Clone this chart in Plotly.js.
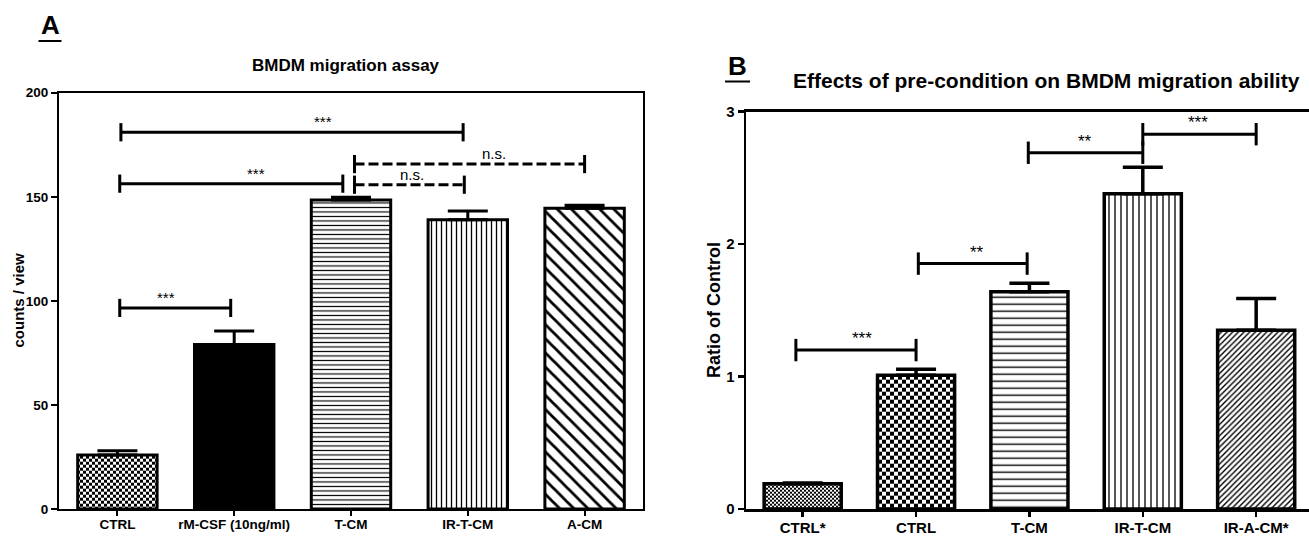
<!DOCTYPE html>
<html><head><meta charset="utf-8">
<script src="https://cdn.plot.ly/plotly-3.0.1.min.js"></script>
<style>html,body{margin:0;padding:0;background:#fff}</style>
</head><body><div id="chart" style="width:1309px;height:537px"></div>
<script>
// ---------- Panel A data ----------
const catsA = ['CTRL', 'rM-CSF (10ng/ml)', 'T-CM', 'IR-T-CM', 'A-CM'];
const valsA = [26, 79, 148.5, 139, 144.5];
const errA  = [2, 6.5, 1.3, 4.2, 1.4];
const ticksA = [0, 50, 100, 150, 200];

// significance brackets, panel A
const sigA_from  = [0.03, 0.02, 0.02, 2.03, 2.03];
const sigA_to    = [2.96, 1.93, 0.97, 2.97, 4.0];
const sigA_y     = [181, 156.3, 96.6, 155.8, 165.7];
const sigA_text  = ['***', '***', '***', 'n.s.', 'n.s.'];
const sigA_textx = [1.76, 1.19, 0.42, 2.52, 3.22];
const sigA_dash  = [false, false, false, true, true];

// ---------- Panel B data ----------
const catsB = ['CTRL*', 'CTRL', 'T-CM', 'IR-T-CM', 'IR-A-CM*'];
const valsB = [0.19, 1.01, 1.64, 2.38, 1.35];
const errB  = [0.006, 0.045, 0.065, 0.2, 0.24];
const ticksB = [0, 1, 2, 3];

const sigB_from  = [-0.06, 1.02, 1.99, 3.0];
const sigB_to    = [1.0, 1.98, 3.0, 4.0];
const sigB_y     = [1.2, 1.853, 2.69, 2.83];
const sigB_text  = ['***', '**', '**', '***'];
const sigB_textx = [0.52, 1.54, 2.49, 3.49];

// ---------- styling ----------
const FONT = 'Arial, "Liberation Sans", Helvetica, sans-serif';
const W = 1309, H = 537;
const px = v => v / W;
const py = v => 1 - v / H;
const idx = a => a.map((_, i) => i);

const traces = [];

traces.push({
  type: 'bar', x: idx(catsA), y: valsA, xaxis: 'x', yaxis: 'y', width: 0.68,
  marker: {
    color: 'black',
    line: {color: 'black', width: 3},
    pattern: {
      shape: ['.', '', '-', '|', '\\'],
      size: [6, 8, 4.5, 5, 10],
      solidity: [0.5, 0.3, 0.26, 0.26, 0.28],
      fgcolor: 'black', bgcolor: 'white', fillmode: 'replace'
    }
  },
  error_y: {type: 'data', symmetric: false, array: errA, arrayminus: errA.map(() => 0),
            color: 'black', thickness: 3, width: 20},
  hoverinfo: 'skip', showlegend: false
});

traces.push({
  type: 'bar', x: idx(catsB), y: valsB, xaxis: 'x2', yaxis: 'y2', width: 0.68,
  marker: {
    color: 'black',
    line: {color: 'black', width: 3.5},
    pattern: {
      shape: ['.', '.', '-', '|', '/'],
      size: [4, 8, 7, 6, 4],
      solidity: [0.5, 0.5, 0.2, 0.22, 0.35],
      fgcolor: 'black', bgcolor: 'white', fillmode: 'replace'
    }
  },
  error_y: {type: 'data', symmetric: false, array: errB, arrayminus: errB.map(() => 0),
            color: 'black', thickness: 3.5, width: 20},
  hoverinfo: 'skip', showlegend: false
});

const annotations = [];

sigA_y.forEach((y, i) => {
  traces.push({
    type: 'scatter', mode: 'lines+markers', xaxis: 'x', yaxis: 'y',
    x: [sigA_from[i], sigA_to[i]], y: [y, y],
    line: {color: 'black', width: 3, dash: sigA_dash[i] ? '10px,4px' : 'solid'},
    marker: {symbol: 'line-ns', size: 13, color: 'black', line: {color: 'black', width: 3}},
    hoverinfo: 'skip', showlegend: false, cliponaxis: false
  });
  annotations.push({
    xref: 'x', yref: 'y', x: sigA_textx[i], y: y, text: sigA_text[i],
    showarrow: false, xanchor: 'center', yanchor: 'bottom',
    font: {family: FONT, size: 15, color: 'black'}
  });
});

sigB_y.forEach((y, i) => {
  traces.push({
    type: 'scatter', mode: 'lines+markers', xaxis: 'x2', yaxis: 'y2',
    x: [sigB_from[i], sigB_to[i]], y: [y, y],
    line: {color: 'black', width: 3},
    marker: {symbol: 'line-ns', size: 16, color: 'black', line: {color: 'black', width: 3}},
    hoverinfo: 'skip', showlegend: false, cliponaxis: false
  });
  annotations.push({
    xref: 'x2', yref: 'y2', x: sigB_textx[i], y: y, text: sigB_text[i],
    showarrow: false, xanchor: 'center', yanchor: 'bottom',
    font: {family: FONT, size: 17, color: 'black'}
  });
});

// titles and panel letters
annotations.push(
  {xref: 'paper', yref: 'paper', x: px(346), y: py(65), text: 'BMDM migration assay',
   showarrow: false, xanchor: 'center', yanchor: 'middle',
   font: {family: FONT, size: 17, color: 'black', weight: 'bold'}},
  {xref: 'paper', yref: 'paper', x: px(1046), y: py(80), text: 'Effects of pre-condition on BMDM migration ability',
   showarrow: false, xanchor: 'center', yanchor: 'middle',
   font: {family: FONT, size: 21, color: 'black', weight: 'bold'}},
  {xref: 'paper', yref: 'paper', x: px(50), y: py(25), text: 'A',
   showarrow: false, xanchor: 'center', yanchor: 'middle',
   font: {family: FONT, size: 26, color: 'black', weight: 'bold'}},
  {xref: 'paper', yref: 'paper', x: px(737.5), y: py(66), text: 'B',
   showarrow: false, xanchor: 'center', yanchor: 'middle',
   font: {family: FONT, size: 26, color: 'black', weight: 'bold'}},
  {xref: 'paper', yref: 'paper', x: px(18), y: py(300.5), text: 'counts / view', textangle: -90,
   showarrow: false, xanchor: 'center', yanchor: 'middle',
   font: {family: FONT, size: 15, color: 'black', weight: 'bold'}},
  {xref: 'paper', yref: 'paper', x: px(713.5), y: py(310.5), text: 'Ratio of Control', textangle: -90,
   showarrow: false, xanchor: 'center', yanchor: 'middle',
   font: {family: FONT, size: 18, color: 'black', weight: 'bold'}}
);

const shapes = [
  {type: 'line', xref: 'paper', yref: 'paper', x0: px(38.5), x1: px(61.5), y0: py(41), y1: py(41),
   line: {color: 'black', width: 2}},
  {type: 'line', xref: 'paper', yref: 'paper', x0: px(725), x1: px(750), y0: py(81.5), y1: py(81.5),
   line: {color: 'black', width: 2}}
];

const axBase = {
  showgrid: false, zeroline: false, showline: true, linecolor: 'black',
  ticks: 'outside', tickcolor: 'black', fixedrange: true, automargin: false
};

const layout = {
  width: W, height: H,
  margin: {l: 0, r: 0, t: 0, b: 0},
  paper_bgcolor: 'white', plot_bgcolor: 'white',
  font: {family: FONT, color: 'black'},
  showlegend: false,
  xaxis: Object.assign({}, axBase, {
    domain: [px(59), px(643)], range: [-0.5, 4.5], anchor: 'y',
    tickmode: 'array', tickvals: idx(catsA), ticktext: catsA,
    mirror: true, linewidth: 2, ticklen: 5, tickwidth: 2, ticklabelstandoff: -3,
    tickfont: {family: FONT, size: 13.5, color: 'black', weight: 'bold'}
  }),
  yaxis: Object.assign({}, axBase, {
    domain: [py(509), py(92.7)], range: [0, 200], anchor: 'x',
    tickmode: 'array', tickvals: ticksA, ticktext: ticksA.map(String),
    mirror: true, linewidth: 2, ticklen: 6, tickwidth: 2,
    tickfont: {family: FONT, size: 13.5, color: 'black', weight: 'bold'}
  }),
  xaxis2: Object.assign({}, axBase, {
    domain: [px(746), 1], range: [-0.5, 4.466], anchor: 'y2',
    tickmode: 'array', tickvals: idx(catsB), ticktext: catsB,
    mirror: true, linewidth: 2.5, ticklen: 5, tickwidth: 2.5, ticklabelstandoff: -2,
    tickfont: {family: FONT, size: 15, color: 'black', weight: 'bold'}
  }),
  yaxis2: Object.assign({}, axBase, {
    domain: [py(509), py(111.7)], range: [0, 3], anchor: 'x2',
    tickmode: 'array', tickvals: ticksB, ticktext: ticksB.map(String),
    mirror: false, linewidth: 2.5, ticklen: 6, tickwidth: 2.5,
    tickfont: {family: FONT, size: 15, color: 'black', weight: 'bold'}
  }),
  annotations: annotations,
  shapes: shapes
};

// turn the dot patterns into checkerboards (tile size taken from the pattern itself)
function checkerize() {
  const ns = 'http://www.w3.org/2000/svg';
  document.querySelectorAll('#chart pattern').forEach(p => {
    const c = p.querySelector('circle');
    if (!c || p.getAttribute('data-checker')) return;
    let w = parseFloat(p.getAttribute('width'));
    let h = parseFloat(p.getAttribute('height'));
    if (!(w > 0)) w = 2 * parseFloat(c.getAttribute('cx'));
    if (!(h > 0)) h = 2 * parseFloat(c.getAttribute('cy'));
    if (!(w > 0) || !(h > 0)) return;
    while (p.firstChild) p.removeChild(p.firstChild);
    const mk = (x, y, ww, hh, f) => {
      const r = document.createElementNS(ns, 'rect');
      r.setAttribute('x', x); r.setAttribute('y', y);
      r.setAttribute('width', ww); r.setAttribute('height', hh);
      r.setAttribute('fill', f); p.appendChild(r);
    };
    mk(0, 0, w, h, '#fff');
    mk(0, 0, w / 2, h / 2, '#000');
    mk(w / 2, h / 2, w / 2, h / 2, '#000');
    p.setAttribute('data-checker', '1');
  });
}

Plotly.newPlot('chart', traces, layout, {staticPlot: true, displayModeBar: false}).then(checkerize);
</script>
</body></html>
